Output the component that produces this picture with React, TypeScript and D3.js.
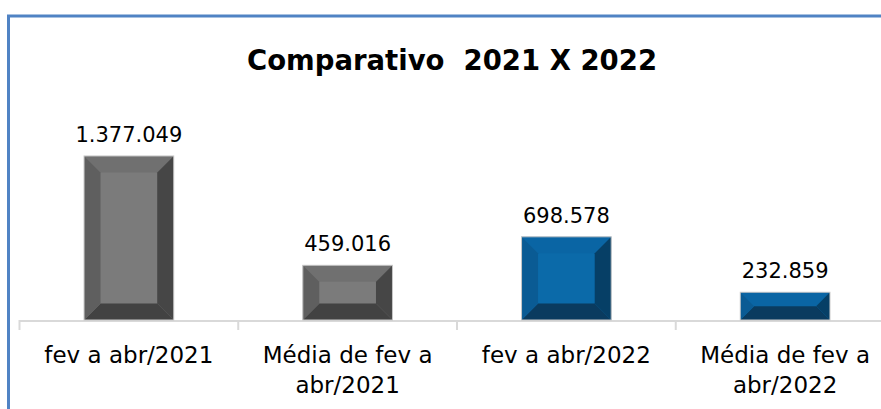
import React, { useEffect, useRef } from 'react'
import * as d3 from 'd3'

const categories = ['fev a abr/2021', 'Média de fev a\nabr/2021', 'fev a abr/2022', 'Média de fev a\nabr/2022']
const values = [1377049, 459016, 698578, 232859]
const valueLabels = ['1.377.049', '459.016', '698.578', '232.859']
const palettes = [
  { face: '#7b7b7b', top: '#707070', left: '#5f5f5f', right: '#464646', bottom: '#424242' },
  { face: '#7b7b7b', top: '#707070', left: '#5f5f5f', right: '#464646', bottom: '#424242' },
  { face: '#0b6aa9', top: '#0a65a4', left: '#0a5b94', right: '#063f66', bottom: '#0a3b5f' },
  { face: '#0b6aa9', top: '#0a65a4', left: '#0a5b94', right: '#063f66', bottom: '#0a3b5f' },
]

const W = 881
const H = 409
const FONT = '"DejaVu Sans", sans-serif'

const App = () => {
  const svgRef = useRef(null)

  useEffect(() => {
    const svg = d3.select(svgRef.current)
    svg.selectAll('*').remove()

    // chart frame (cut off at right and bottom)
    svg
      .append('rect')
      .attr('x', 8.5)
      .attr('y', 16)
      .attr('width', W + 20)
      .attr('height', H + 20)
      .attr('fill', 'white')
      .attr('stroke', '#5083c4')
      .attr('stroke-width', 3)

    svg
      .append('text')
      .attr('x', 452)
      .attr('y', 70)
      .attr('text-anchor', 'middle')
      .style('font-family', FONT)
      .style('font-weight', 'bold')
      .style('font-size', '27.5px')
      .style('fill', '#000')
      .attr('xml:space', 'preserve')
      .text('Comparativo  2021 X 2022')

    const x = d3
      .scaleBand()
      .domain(categories)
      .range([19.5, 894.5])
      .paddingInner(0.59)
      .paddingOuter(0.295)

    const y = d3.scaleLinear().domain([0, 1600000]).range([320, 129.4])

    // axis
    const axisG = svg.append('g')
    axisG
      .append('line')
      .attr('x1', 19.5)
      .attr('x2', 894.5)
      .attr('y1', 321)
      .attr('y2', 321)
      .attr('stroke', '#d9d9d9')
      .attr('stroke-width', 2)
    const step = x.step()
    categories.forEach((c, i) => {
      const tx = 19.5 + i * step
      axisG
        .append('line')
        .attr('x1', tx)
        .attr('x2', tx)
        .attr('y1', 320)
        .attr('y2', 330)
        .attr('stroke', '#d9d9d9')
        .attr('stroke-width', 2)
    })

    // bars with bevel
    values.forEach((v, i) => {
      const c = categories[i]
      const p = palettes[i]
      const x0 = x(c)
      const x1 = x0 + x.bandwidth()
      const y0 = y(v)
      const y1 = y(0)
      const b = Math.min(16.5, (y1 - y0) / 2, (x1 - x0) / 2)
      const g = svg.append('g')
      const poly = (pts, fill) =>
        g.append('polygon').attr('points', pts.map((q) => q.join(',')).join(' ')).attr('fill', fill)
      g.append('rect').attr('x', x0).attr('y', y0).attr('width', x1 - x0).attr('height', y1 - y0).attr('fill', p.face)
      poly([[x0, y0], [x1, y0], [x1 - b, y0 + b], [x0 + b, y0 + b]], p.top)
      poly([[x0, y1], [x1, y1], [x1 - b, y1 - b], [x0 + b, y1 - b]], p.bottom)
      poly([[x0, y0], [x0 + b, y0 + b], [x0 + b, y1 - b], [x0, y1]], p.left)
      poly([[x1, y0], [x1 - b, y0 + b], [x1 - b, y1 - b], [x1, y1]], p.right)
      g.append('rect')
        .attr('x', x0)
        .attr('y', y0)
        .attr('width', x1 - x0)
        .attr('height', y1 - y0)
        .attr('fill', 'none')
        .attr('stroke', '#c8c8c8')
        .attr('stroke-width', 1)

      svg
        .append('text')
        .attr('x', x0 + x.bandwidth() / 2)
        .attr('y', y0 - 14)
        .attr('text-anchor', 'middle')
        .style('font-family', FONT)
        .style('font-size', '21px')
        .style('fill', '#000')
        .text(valueLabels[i])
    })

    // category labels
    categories.forEach((c) => {
      const t = svg
        .append('text')
        .attr('x', x(c) + x.bandwidth() / 2)
        .attr('y', 363)
        .attr('text-anchor', 'middle')
        .style('font-family', FONT)
        .style('font-size', '23px')
        .style('fill', '#000')
      c.split('\n').forEach((line, j) => {
        t.append('tspan')
          .attr('x', x(c) + x.bandwidth() / 2)
          .attr('dy', j === 0 ? 0 : 30)
          .text(line)
      })
    })
  }, [])

  return (
    <svg
      ref={svgRef}
      width={W}
      height={H}
      style={{ position: 'absolute', left: 0, top: 0, background: 'white' }}
    ></svg>
  )
}

export default App
